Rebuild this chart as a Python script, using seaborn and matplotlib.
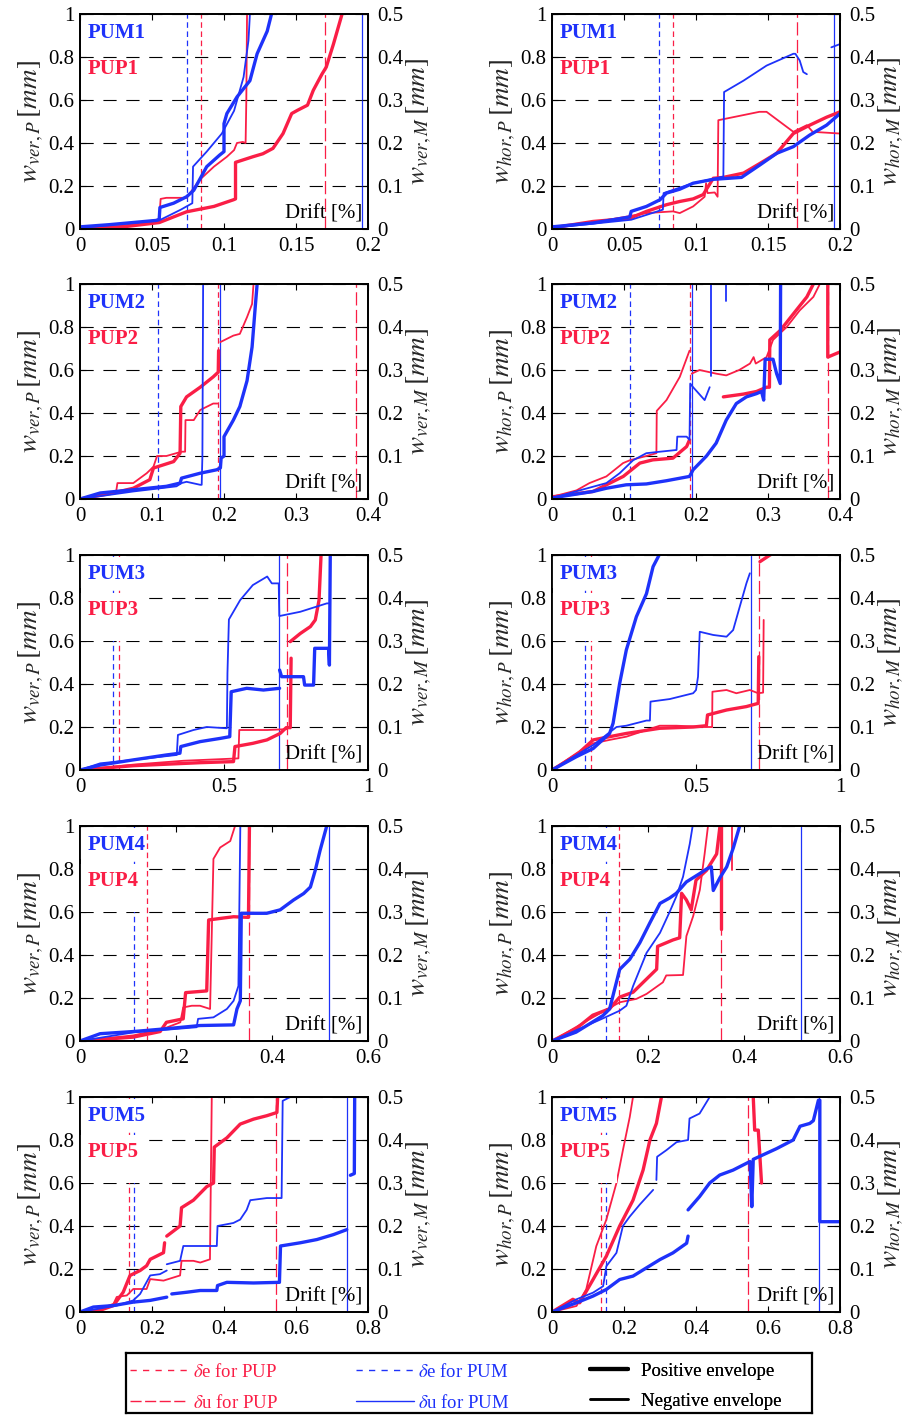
import numpy as np
import pandas as pd
import matplotlib
matplotlib.use("Agg")
import matplotlib.pyplot as plt
from matplotlib.lines import Line2D
from matplotlib.patches import Rectangle
from matplotlib.ticker import FuncFormatter, MultipleLocator
import seaborn as sns

# ---------------- data (drift [%], crack width read against left axis [mm]) -------------
SPECIMENS = ["1", "2", "3", "4", "5"]
XMAX = [0.2, 0.4, 1.0, 0.6, 0.8]
XSTEP = [0.05, 0.1, 0.5, 0.2, 0.2]

DE_PUP = [0.084, 0.191, 0.137, 0.140, 0.135]
DU_PUP = [0.170, 0.383, 0.718, 0.353, 0.544]
DE_PUM = [0.074, 0.109, 0.113, 0.113, 0.151]
DU_PUM = [0.196, 0.194, 0.690, 0.518, 0.741]

# Row 1
VER1_PUP_POS = [[(0,0),(0.03,0.01),(0.055,0.03),(0.074,0.08),(0.093,0.105),(0.1066,0.136),(0.108,0.14),(0.108,0.31),(0.12,0.336),(0.127,0.35),(0.134,0.375),(0.141,0.444),(0.147,0.537),(0.151,0.552),(0.158,0.576),(0.162,0.645),(0.168,0.72),(0.171,0.753),(0.176,0.86),(0.182,1.0)]]
VER1_PUP_NEG = [[(0,0),(0.03,0.015),(0.055,0.045),(0.056,0.14),(0.06,0.145),(0.074,0.145),(0.083,0.228),(0.093,0.29),(0.102,0.336),(0.107,0.367),(0.109,0.40),(0.113,0.405),(0.115,0.40),(0.1155,0.6),(0.116,1.0)]]
VER1_PUM_POS = [[(0,0.01),(0.02,0.02),(0.053,0.04),(0.055,0.045),(0.0555,0.1),(0.065,0.12),(0.074,0.15),(0.079,0.18),(0.088,0.29),(0.097,0.344),(0.1,0.36),(0.1,0.49),(0.102,0.537),(0.109,0.614),(0.118,0.69),(0.123,0.815),(0.13,0.92),(0.133,1.0)]]
VER1_PUM_NEG = [[(0,0.005),(0.055,0.04),(0.07,0.09),(0.078,0.12),(0.0785,0.29),(0.088,0.36),(0.0985,0.444),(0.107,0.55),(0.1136,0.707),(0.117,0.877),(0.118,1.0)]]
HOR1_PUP_POS = [[(0,0.005),(0.0285,0.035),(0.054,0.05),(0.0656,0.082),(0.0795,0.113),(0.0887,0.128),(0.098,0.14),(0.105,0.16),(0.112,0.236),(0.119,0.24),(0.133,0.26),(0.1444,0.305),(0.156,0.352),(0.1676,0.444),(0.179,0.483),(0.1907,0.52),(0.2,0.545)]]
HOR1_PUP_NEG = [[(0,0.005),(0.0285,0.03),(0.0656,0.074),(0.084,0.082),(0.0887,0.074),(0.098,0.105),(0.106,0.15),(0.107,0.213),(0.108,0.167),(0.113,0.17),(0.115,0.15),(0.1155,0.506),(0.144,0.545),(0.149,0.545),(0.158,0.5),(0.1676,0.452),(0.177,0.483),(0.181,0.452),(0.2,0.444)]]
HOR1_PUM_POS = [[(0,0.01),(0.0285,0.028),(0.054,0.056),(0.055,0.082),(0.0656,0.105),(0.075,0.136),(0.0795,0.167),(0.0887,0.185),(0.098,0.213),(0.112,0.231),(0.1316,0.24),(0.1444,0.298),(0.156,0.352),(0.1676,0.383),(0.179,0.437),(0.1907,0.483),(0.2,0.537)]]
HOR1_PUM_NEG = [[(0,0.005),(0.055,0.043),(0.077,0.09),(0.0775,0.167),(0.098,0.213),(0.119,0.244),(0.1195,0.637),(0.133,0.69),(0.149,0.76),(0.1676,0.815),(0.169,0.815),(0.172,0.784),(0.1745,0.73),(0.177,0.72)],[(0.194,0.845),(0.2,0.86)]]

# Row 2
VER2_PUP_POS = [[(0,0),(0.046,0.028),(0.074,0.05),(0.097,0.09),(0.102,0.144),(0.13,0.174),(0.139,0.213),(0.14,0.43),(0.148,0.475),(0.167,0.52),(0.185,0.568),(0.192,0.59),(0.1925,0.69)]]
VER2_PUP_NEG = [[(0,0),(0.05,0.03),(0.052,0.074),(0.074,0.074),(0.0927,0.12),(0.102,0.15),(0.107,0.2),(0.12,0.2),(0.141,0.22),(0.146,0.22),(0.1465,0.367),(0.158,0.367),(0.167,0.414),(0.185,0.444),(0.191,0.444)],[(0.195,0.73),(0.213,0.76),(0.222,0.768),(0.232,0.846),(0.239,0.907),(0.241,1.0)]]
VER2_PUM_POS = [[(0,0),(0.028,0.028),(0.074,0.043),(0.12,0.059),(0.139,0.074),(0.141,0.097),(0.167,0.12),(0.19,0.136),(0.195,0.145),(0.196,0.19),(0.2,0.2),(0.2,0.29),(0.213,0.367),(0.222,0.43),(0.232,0.55),(0.239,0.707),(0.243,0.877),(0.246,1.0)]]
VER2_PUM_NEG = [[(0,0),(0.074,0.035),(0.134,0.059),(0.141,0.074),(0.148,0.08),(0.167,0.066),(0.169,0.066),(0.17,0.2),(0.171,1.0)]]
HOR2_PUP_POS = [[(0,0.01),(0.057,0.035),(0.099,0.105),(0.122,0.167),(0.14,0.182),(0.168,0.19),(0.187,0.244),(0.191,0.275)],[(0.238,0.475),(0.266,0.488),(0.284,0.5),(0.298,0.52),(0.302,0.52),(0.3025,0.74),(0.317,0.784),(0.335,0.86),(0.354,0.94),(0.363,1.0)],[(0.383,1.0),(0.383,0.66),(0.4,0.684)]]
HOR2_PUP_NEG = [[(0,0.01),(0.034,0.04),(0.052,0.074),(0.0755,0.105),(0.0987,0.167),(0.108,0.18),(0.131,0.2),(0.145,0.213),(0.1455,0.41),(0.159,0.46),(0.1775,0.568),(0.191,0.69)],[(0.194,0.583),(0.205,0.6),(0.228,0.583),(0.242,0.575),(0.26,0.6),(0.275,0.63),(0.28,0.66),(0.283,0.63),(0.298,0.66),(0.307,0.74),(0.326,0.8),(0.344,0.877),(0.363,0.94),(0.372,1.0)]]
HOR2_PUM_POS = [[(0,0.005),(0.057,0.035),(0.0755,0.05),(0.103,0.066),(0.131,0.07),(0.159,0.085),(0.191,0.105),(0.196,0.136),(0.2146,0.2),(0.228,0.26),(0.242,0.367),(0.256,0.444),(0.27,0.475),(0.284,0.49),(0.291,0.5),(0.294,0.46),(0.296,0.65),(0.307,0.65),(0.312,0.583),(0.317,0.537),(0.3175,1.0)]]
HOR2_PUM_NEG = [[(0,0.005),(0.0755,0.074),(0.094,0.12),(0.1126,0.18),(0.131,0.213),(0.15,0.22),(0.173,0.228),(0.174,0.29),(0.187,0.29),(0.191,0.275),(0.192,0.537),(0.196,0.52),(0.212,0.46),(0.219,0.52)],[(0.2215,0.57),(0.2215,1.0)],[(0.242,0.92),(0.242,1.0)]]

# Row 3
VER3_PUP_POS = [[(0,0),(0.185,0.02),(0.417,0.034),(0.533,0.039),(0.538,0.109),(0.6,0.124),(0.649,0.14),(0.695,0.17),(0.716,0.197),(0.73,0.197),(0.733,0.52)],[(0.73,0.597),(0.765,0.635),(0.8,0.667),(0.817,0.698),(0.83,0.79),(0.837,1.0)]]
VER3_PUP_NEG = [[(0,0),(0.185,0.025),(0.359,0.043),(0.55,0.054),(0.553,0.186),(0.65,0.186),(0.718,0.19)]]
VER3_PUM_POS = [[(0,0),(0.07,0.023),(0.185,0.047),(0.3,0.07),(0.347,0.078),(0.35,0.109),(0.417,0.132),(0.487,0.147),(0.52,0.155),(0.525,0.364),(0.579,0.38),(0.637,0.372),(0.693,0.38)],[(0.693,0.465),(0.7,0.434),(0.776,0.434),(0.78,0.395),(0.811,0.395),(0.815,0.566),(0.863,0.566),(0.866,0.488),(0.869,1.0)]]
VER3_PUM_NEG = [[(0,0),(0.07,0.031),(0.185,0.047),(0.336,0.07),(0.34,0.163),(0.394,0.186),(0.44,0.2),(0.51,0.194),(0.512,0.45),(0.517,0.7),(0.556,0.79),(0.6,0.86),(0.65,0.9),(0.666,0.868),(0.69,0.868),(0.692,0.716),(0.765,0.736),(0.857,0.775),(0.863,0.775)]]
HOR3_PUP_POS = [[(0,0),(0.085,0.07),(0.143,0.14),(0.2,0.155),(0.258,0.17),(0.374,0.194),(0.49,0.2),(0.536,0.206),(0.54,0.256),(0.606,0.279),(0.675,0.295),(0.716,0.31),(0.718,0.527)],[(0.722,0.969),(0.757,1.0)]]
HOR3_PUP_NEG = [[(0,0),(0.085,0.078),(0.143,0.124),(0.2,0.14),(0.258,0.155),(0.374,0.206),(0.432,0.206),(0.536,0.2),(0.556,0.2),(0.557,0.364),(0.606,0.372),(0.64,0.357),(0.687,0.372),(0.716,0.357),(0.733,0.36),(0.735,0.698)]]
HOR3_PUM_POS = [[(0,0),(0.085,0.062),(0.143,0.1),(0.2,0.17),(0.212,0.217),(0.235,0.403),(0.258,0.558),(0.293,0.713),(0.328,0.82),(0.351,0.946),(0.372,1.0)]]
HOR3_PUM_NEG = [[(0,0),(0.085,0.07),(0.143,0.116),(0.2,0.175),(0.224,0.2),(0.258,0.206),(0.328,0.23),(0.34,0.23),(0.342,0.318),(0.409,0.33),(0.49,0.357),(0.5,0.372),(0.507,0.434),(0.513,0.643),(0.56,0.628),(0.606,0.62),(0.629,0.651),(0.652,0.76),(0.675,0.868),(0.687,0.915)]]

# Row 4
VER4_PUP_POS = [[(0,0),(0.111,0.018),(0.167,0.044),(0.18,0.087),(0.215,0.103),(0.22,0.225),(0.264,0.233),(0.268,0.563),(0.292,0.57),(0.32,0.578),(0.351,0.575),(0.353,1.0)]]
VER4_PUP_NEG = [[(0,0),(0.111,0.026),(0.174,0.057),(0.209,0.087),(0.215,0.156),(0.233,0.164),(0.25,0.164),(0.271,0.149),(0.278,0.847),(0.292,0.9),(0.313,0.93),(0.323,1.0)]]
VER4_PUM_POS = [[(0,0),(0.042,0.034),(0.111,0.044),(0.18,0.057),(0.25,0.072),(0.32,0.075),(0.327,0.149),(0.334,0.187),(0.336,0.594),(0.389,0.594),(0.417,0.61),(0.431,0.633),(0.445,0.656),(0.466,0.686),(0.48,0.716),(0.49,0.793),(0.5,0.885),(0.514,1.0)]]
VER4_PUM_NEG = [[(0,0),(0.111,0.04),(0.243,0.064),(0.246,0.103),(0.278,0.11),(0.306,0.149),(0.32,0.187),(0.33,0.256),(0.334,1.0)]]
HOR4_PUP_POS = [[(0,0),(0.05,0.057),(0.085,0.12),(0.12,0.15),(0.141,0.204),(0.169,0.227),(0.19,0.273),(0.218,0.334),(0.22,0.44),(0.252,0.47),(0.266,0.48),(0.27,0.687),(0.28,0.656),(0.29,0.61),(0.3,0.748),(0.322,0.794),(0.343,0.87),(0.35,1.0)],[(0.353,1.0),(0.353,0.52)]]
HOR4_PUP_NEG = [[(0,0),(0.085,0.11),(0.141,0.18),(0.176,0.196),(0.197,0.219),(0.231,0.273),(0.238,0.305),(0.273,0.307),(0.28,0.488),(0.294,0.58),(0.308,0.703),(0.318,0.871),(0.325,1.0)],[(0.376,1.0),(0.376,0.794)]]
HOR4_PUM_POS = [[(0,0),(0.05,0.041),(0.106,0.118),(0.12,0.149),(0.141,0.333),(0.162,0.38),(0.183,0.457),(0.204,0.55),(0.225,0.64),(0.245,0.665),(0.259,0.687),(0.28,0.74),(0.308,0.779),(0.322,0.8),(0.332,0.81),(0.336,0.7),(0.35,0.76),(0.364,0.81),(0.378,0.9),(0.391,1.0)]]
HOR4_PUM_NEG = [[(0,0),(0.106,0.105),(0.141,0.141),(0.155,0.164),(0.169,0.256),(0.197,0.41),(0.225,0.503),(0.245,0.6),(0.259,0.672),(0.273,0.764),(0.287,0.917),(0.293,1.0)]]

# Row 5
VER5_PUP_POS = [[(0,0),(0.056,0.008),(0.093,0.03),(0.12,0.092),(0.139,0.17),(0.167,0.193),(0.185,0.215),(0.195,0.245),(0.213,0.26),(0.232,0.276),(0.235,0.322)],[(0.241,0.353),(0.278,0.4),(0.282,0.485),(0.315,0.52),(0.352,0.583),(0.371,0.6),(0.373,0.767),(0.408,0.81),(0.445,0.874),(0.482,0.897),(0.519,0.913),(0.547,0.928),(0.549,1.0)]]
VER5_PUP_NEG = [[(0,0),(0.056,0.015),(0.093,0.038),(0.102,0.07),(0.13,0.077),(0.148,0.107),(0.185,0.107),(0.195,0.153),(0.232,0.146),(0.278,0.17),(0.282,0.238),(0.315,0.238),(0.334,0.23),(0.361,0.245),(0.366,1.0)]]
VER5_PUM_POS = [[(0,0),(0.037,0.023),(0.093,0.03),(0.148,0.046),(0.195,0.054),(0.241,0.069)],[(0.255,0.084),(0.297,0.092),(0.334,0.1),(0.38,0.1),(0.382,0.123),(0.408,0.138),(0.482,0.135),(0.554,0.138),(0.557,0.307),(0.612,0.322),(0.658,0.337),(0.704,0.36),(0.741,0.383)],[(0.751,0.636),(0.762,0.644),(0.763,1.0)]]
VER5_PUM_NEG = [[(0,0),(0.102,0.03),(0.148,0.054),(0.167,0.084),(0.195,0.17),(0.222,0.176),(0.241,0.193)],[(0.241,0.222),(0.278,0.238),(0.287,0.307),(0.38,0.307),(0.382,0.4),(0.426,0.414),(0.445,0.43),(0.463,0.475),(0.473,0.52),(0.519,0.53),(0.56,0.53),(0.563,0.982),(0.584,1.0)]]
HOR5_PUP_POS = [[(0,0),(0.058,0.059),(0.077,0.043),(0.114,0.151),(0.151,0.26),(0.188,0.4),(0.225,0.52),(0.253,0.66),(0.272,0.8),(0.29,0.877),(0.304,1.0)],[(0.559,1.0),(0.563,0.846),(0.573,0.846),(0.582,0.6)]]
HOR5_PUP_NEG = [[(0,0),(0.068,0.028),(0.095,0.105),(0.123,0.306),(0.151,0.43),(0.179,0.6),(0.197,0.753),(0.216,0.907),(0.225,1.0)]]
HOR5_PUM_POS = [[(0,0),(0.068,0.043),(0.114,0.074),(0.151,0.105),(0.188,0.151),(0.225,0.167),(0.262,0.205),(0.3,0.244),(0.336,0.275),(0.374,0.32),(0.378,0.353)],[(0.378,0.475),(0.41,0.537),(0.438,0.6),(0.466,0.637),(0.503,0.66),(0.55,0.7),(0.555,0.49),(0.559,0.71),(0.624,0.76),(0.67,0.8),(0.689,0.864),(0.716,0.877),(0.726,0.89),(0.74,0.985),(0.744,0.985),(0.744,0.42),(0.8,0.42)]]
HOR5_PUM_NEG = [[(0,0),(0.068,0.059),(0.114,0.09),(0.142,0.12),(0.151,0.213),(0.179,0.275),(0.197,0.4),(0.216,0.444),(0.244,0.5),(0.281,0.568)],[(0.29,0.614),(0.292,0.722),(0.318,0.753),(0.346,0.79),(0.378,0.8),(0.382,0.9),(0.41,0.923),(0.438,1.0)]]

VER_CURVES = [
    (VER1_PUP_POS, VER1_PUP_NEG, VER1_PUM_POS, VER1_PUM_NEG),
    (VER2_PUP_POS, VER2_PUP_NEG, VER2_PUM_POS, VER2_PUM_NEG),
    (VER3_PUP_POS, VER3_PUP_NEG, VER3_PUM_POS, VER3_PUM_NEG),
    (VER4_PUP_POS, VER4_PUP_NEG, VER4_PUM_POS, VER4_PUM_NEG),
    (VER5_PUP_POS, VER5_PUP_NEG, VER5_PUM_POS, VER5_PUM_NEG),
]
HOR_CURVES = [
    (HOR1_PUP_POS, HOR1_PUP_NEG, HOR1_PUM_POS, HOR1_PUM_NEG),
    (HOR2_PUP_POS, HOR2_PUP_NEG, HOR2_PUM_POS, HOR2_PUM_NEG),
    (HOR3_PUP_POS, HOR3_PUP_NEG, HOR3_PUM_POS, HOR3_PUM_NEG),
    (HOR4_PUP_POS, HOR4_PUP_NEG, HOR4_PUM_POS, HOR4_PUM_NEG),
    (HOR5_PUP_POS, HOR5_PUP_NEG, HOR5_PUM_POS, HOR5_PUM_NEG),
]

# ---------------- style -------------
sns.set_theme(style="ticks")
plt.rcParams["font.family"] = ["Liberation Serif", "DejaVu Serif"]
plt.rcParams["mathtext.fontset"] = "stix"
plt.rcParams["lines.scale_dashes"] = False
plt.rcParams["axes.edgecolor"] = "black"
plt.rcParams["xtick.color"] = "black"
plt.rcParams["ytick.color"] = "black"

RED = "#FA1E46"
BLUE = "#1E32FA"
LW_POS = 2.4
LW_NEG = 1.3
DASH_E = (0, (4.0, 2.6))
DASH_U = (0, (9.5, 3.2))
GRID_DASH = (0, (9.5, 7.0))
TICK_FS = 15
LABEL_FS = 19.5

W, H = 913, 1415
fig = plt.figure(figsize=(W / 100, H / 100), dpi=100)
fig.patch.set_facecolor("white")

ROW_TOPS = [14, 284, 555, 826, 1097]
COL_LEFT = [80, 552]
AX_W, AX_H = 288, 215


def seg_frame(segments):
    rows = []
    for i, seg in enumerate(segments):
        for x, y in seg:
            rows.append((x, y, i))
    return pd.DataFrame(rows, columns=["drift", "w", "seg"])


fmt = FuncFormatter(lambda v, p: f"{v:g}")

for r in range(5):
    for c, (curves, kind) in enumerate([(VER_CURVES, "ver"), (HOR_CURVES, "hor")]):
        left = COL_LEFT[c] / W
        bottom = 1 - (ROW_TOPS[r] + AX_H) / H
        ax = fig.add_axes([left, bottom, AX_W / W, AX_H / H])
        ax.set_facecolor("white")
        pup_pos, pup_neg, pum_pos, pum_neg = curves[r]
        for segs, col, lw in [(pup_neg, RED, LW_NEG), (pup_pos, RED, LW_POS),
                              (pum_neg, BLUE, LW_NEG), (pum_pos, BLUE, LW_POS)]:
            sns.lineplot(data=seg_frame(segs), x="drift", y="w", units="seg",
                         estimator=None, sort=False, color=col, lw=lw, ax=ax,
                         legend=False, zorder=2, solid_joinstyle="round")
        # drift limits
        ax.axvline(DE_PUP[r], color=RED, lw=0.9, ls=DASH_E, zorder=1.8)
        ax.axvline(DU_PUP[r], color=RED, lw=0.9, ls=DASH_U, zorder=1.8)
        ax.axvline(DE_PUM[r], color=BLUE, lw=0.9, ls=DASH_E, zorder=1.8)
        ax.axvline(DU_PUM[r], color=BLUE, lw=0.9, ls="-", zorder=1.8)

        ax.set_xlim(0, XMAX[r])
        ax.set_ylim(0, 1)
        ax.xaxis.set_major_locator(MultipleLocator(XSTEP[r]))
        ax.yaxis.set_major_locator(MultipleLocator(0.2))
        ax.xaxis.set_major_formatter(fmt)
        ax.yaxis.set_major_formatter(fmt)
        ax.set_axisbelow(True)
        ax.yaxis.grid(True, color="black", lw=0.8, ls=GRID_DASH)
        ax.xaxis.grid(False)
        ax.tick_params(axis="y", direction="in", length=4, width=0.8,
                       labelsize=TICK_FS, right=False, pad=4)
        ax.tick_params(axis="x", direction="in", length=4, width=0.8,
                       labelsize=TICK_FS, top=True, pad=6)
        ax.set_xlabel("")
        ax.set_ylabel(r"$w_{%s,P}\,[mm]$" % kind, fontsize=LABEL_FS, labelpad=2)
        for sp in ax.spines.values():
            sp.set_linewidth(1.3)
            sp.set_color("black")

        ax2 = ax.twinx()
        ax2.set_ylim(0, 0.5)
        ax2.yaxis.set_major_locator(MultipleLocator(0.1))
        ax2.yaxis.set_major_formatter(fmt)
        ax2.tick_params(axis="y", direction="in", length=4, width=0.8,
                        labelsize=TICK_FS, pad=7)
        ax2.grid(False)
        ax2.set_ylabel(r"$w_{%s,M}\,[mm]$" % kind, fontsize=LABEL_FS, labelpad=1)
        for sp in ax2.spines.values():
            sp.set_linewidth(1.3)
            sp.set_color("black")

        # white label boxes (cover grid & limit lines in lower rows)
        if r >= 2:
            ax.add_patch(Rectangle((0, 0.60), 0.226, 0.225, transform=ax.transAxes,
                                   facecolor="white", edgecolor="none", zorder=2.6))
            ax.add_patch(Rectangle((0, 0.845), 0.226, 0.145, transform=ax.transAxes,
                                   facecolor="white", edgecolor="none", zorder=2.6))
        ax.text(0.025, 0.912, "PUM" + SPECIMENS[r], transform=ax.transAxes,
                color=BLUE, fontsize=15, fontweight="bold", va="center", ha="left", zorder=5)
        ax.text(0.025, 0.745, "PUP" + SPECIMENS[r], transform=ax.transAxes,
                color=RED, fontsize=15, fontweight="bold", va="center", ha="left", zorder=5)
        ax.text(0.98, 0.07, "Drift [%]", transform=ax.transAxes, color="black",
                fontsize=15, va="center", ha="right", zorder=5)

# ---------------- legend -------------
lx0, lx1, ly0, ly1 = 126, 812, 1353, 1413
lax = fig.add_axes([lx0 / W, 1 - ly1 / H, (lx1 - lx0) / W, (ly1 - ly0) / H])
lax.set_xticks([])
lax.set_yticks([])
lax.set_facecolor("white")
for sp in lax.spines.values():
    sp.set_linewidth(1.6)
    sp.set_color("black")

LEG_FS = 13.5
leg_common = dict(loc="upper left", frameon=False, borderpad=0, borderaxespad=0,
                  fontsize=LEG_FS, labelspacing=0.7)
h1 = [Line2D([], [], color=RED, lw=1.0, ls=(0, (4.5, 4.5))),
      Line2D([], [], color=RED, lw=1.0, ls=(0, (8.0, 2.5)))]
l1 = [r"$\delta$e for PUP", r"$\delta$u for PUP"]
h2 = [Line2D([], [], color=BLUE, lw=1.0, ls=(0, (4.5, 4.5))),
      Line2D([], [], color=BLUE, lw=1.0, ls="-")]
l2 = [r"$\delta$e for PUM", r"$\delta$u for PUM"]
h3 = [Line2D([], [], color="black", lw=3.0), Line2D([], [], color="black", lw=1.8)]
l3 = ["Positive envelope", "Negative envelope"]

def place(handles, labels, px, hl, tp, colors):
    leg = lax.legend(handles, labels, bbox_to_anchor=((px - lx0) / (lx1 - lx0), 0.84),
                     handlelength=hl, handletextpad=tp, labelcolor=colors, **leg_common)
    lax.add_artist(leg)
    return leg

place(h1, l1, 130, 3.05, 0.3, [RED, RED])
place(h2, l2, 356, 3.1, 0.2, [BLUE, BLUE])
place(h3, l3, 590, 2.0, 0.7, ["black", "black"])

fig.savefig("out.png", dpi=100, facecolor="white")
